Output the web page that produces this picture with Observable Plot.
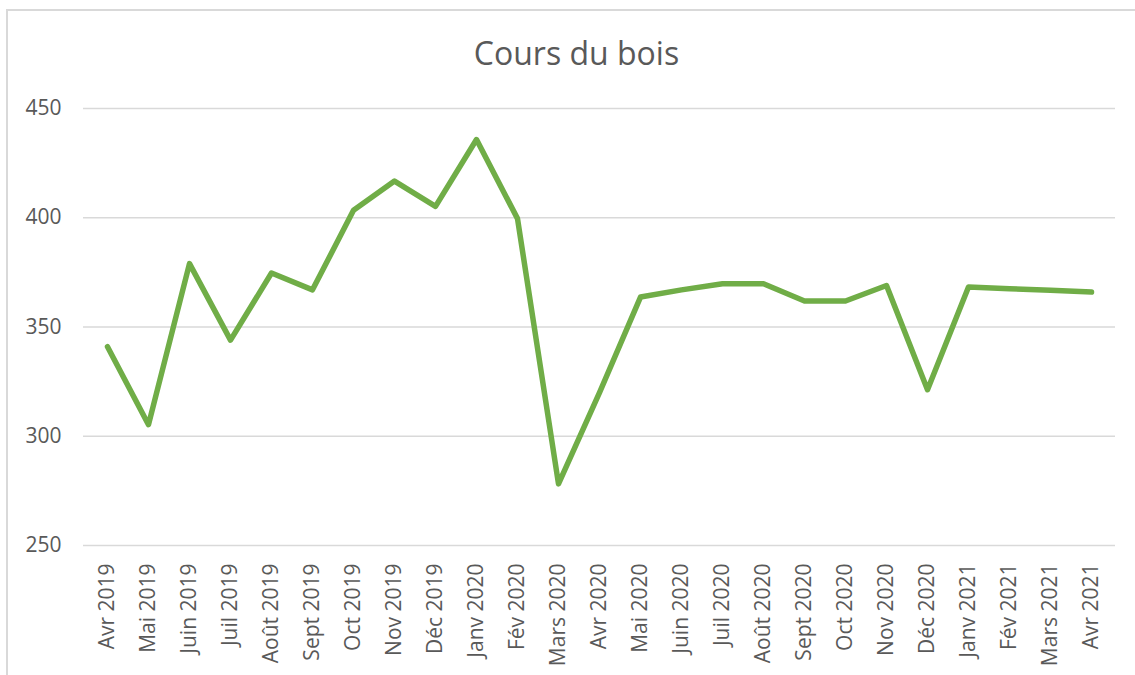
<!DOCTYPE html>
<html>
<head>
<meta charset="utf-8">
<script src="https://cdn.jsdelivr.net/npm/d3@7"></script>
<script src="https://cdn.jsdelivr.net/npm/@observablehq/plot@0.6"></script>
<style>
  html, body { margin: 0; padding: 0; background: #fff; overflow: hidden; }
  #wrap { position: relative; width: 1135px; height: 675px; }
  #frame { position: absolute; left: 6px; top: 9px; width: 1200px; height: 700px;
           border-left: 2px solid #d9d9d9; border-top: 2px solid #d9d9d9; box-sizing: border-box; }
  #title { position: absolute; left: 0; width: 1153px; top: 31px; text-align: center;
           font-family: "Open Sans", sans-serif; font-size: 32px; color: #595959; line-height: 44px; }
  #chart { position: absolute; left: 0; top: 0; }
</style>
</head>
<body>
<div id="wrap">
  <div id="frame"></div>
  <div id="title">Cours du bois</div>
  <div id="chart"></div>
</div>
<script>
const months = ["Avr 2019","Mai 2019","Juin 2019","Juil 2019","Août 2019","Sept 2019","Oct 2019","Nov 2019","Déc 2019","Janv 2020","Fév 2020","Mars 2020","Avr 2020","Mai 2020","Juin 2020","Juil 2020","Août 2020","Sept 2020","Oct 2020","Nov 2020","Déc 2020","Janv 2021","Fév 2021","Mars 2021","Avr 2021"];
const prices = [341, 305.3, 379, 344, 374.7, 367, 403.4, 416.8, 405.2, 435.8, 399.6, 278.2, 320, 363.7, 367, 369.8, 369.8, 361.9, 361.9, 369, 321.3, 368.3, 367.5, 366.8, 366];
const yTicks = [250, 300, 350, 400, 450];

const data = months.map((m, i) => ({month: m, price: prices[i]}));

const chart = Plot.plot({
  width: 1135,
  height: 675,
  marginTop: 108,
  marginBottom: 130,
  marginLeft: 83,
  marginRight: 20,
  style: {fontFamily: "Open Sans, sans-serif", color: "#595959", background: "transparent"},
  x: {type: "point", domain: months, padding: 0.5},
  y: {domain: [250, 450]},
  marks: [
    Plot.ruleY(yTicks, {stroke: "#d9d9d9", strokeWidth: 1.5, strokeOpacity: 1}),
    Plot.axisY({ticks: yTicks, tickSize: 0, tickPadding: 22, fontSize: 21, label: null, fill: "#595959"}),
    Plot.axisX({tickSize: 0, tickPadding: 18, tickRotate: -90, fontSize: 21, label: null, fill: "#595959"}),
    Plot.line(data, {x: "month", y: "price", stroke: "#70AD47", strokeWidth: 5.5, strokeLinejoin: "round", strokeLinecap: "round"})
  ]
});
document.getElementById("chart").appendChild(chart);
</script>
</body>
</html>
